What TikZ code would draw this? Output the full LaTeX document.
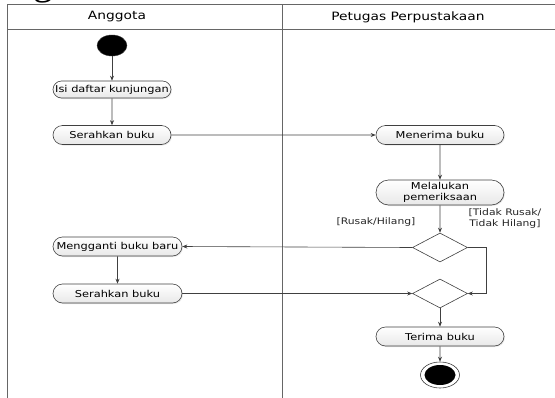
\documentclass[tikz,border=0pt]{standalone}
\usepackage{fontspec}
\setmainfont{DejaVu Sans}[FakeStretch=1.2]
\newfontfamily\docfont{Liberation Serif}
\usetikzlibrary{shapes.geometric,shapes.misc,arrows.meta,shadows}

\tikzset{
  lane/.style={draw=black!60, line width=0.8pt},
  act/.style={rounded rectangle, draw=black!75, line width=0.6pt,
    top color=white, bottom color=black!9, inner sep=1pt,
    minimum height=19pt, align=center,
    font=\fontsize{9.5}{10.5}\selectfont,
    drop shadow={opacity=0.18, shadow xshift=1pt, shadow yshift=-1pt}},
  choice/.style={diamond, draw=black!75, line width=0.6pt, fill=white,
    inner sep=0pt, minimum width=55pt, minimum height=29pt, aspect=1.9},
  flow/.style={draw=black!75, line width=0.6pt,
    -{Stealth[length=5pt,width=4pt]}},
  guard/.style={font=\fontsize{9}{11}\selectfont, align=center, text=black!85},
  head/.style={font=\fontsize{11.5}{13}\selectfont}
}

\begin{document}
\begin{tikzpicture}[x=1pt, y=-1pt]
\useasboundingbox (0,0) rectangle (555,397);
\clip (0,0) rectangle (555,397);

% heading line of the page, only its lowest edge falls inside
\begin{scope}
  \clip (0,0) rectangle (555,4);
  \node[anchor=south, inner sep=0pt, font=\docfont\fontsize{40}{40}\selectfont] (hd) at (43,3.5) {g};
\end{scope}

% swimlane frame
\draw[lane] (7,398) -- (7,4.5) -- (556,4.5);
\draw[lane] (7,29) -- (556,29);
\draw[lane] (282,4.5) -- (282,398);
\node[head] (laneA) at (117,17) {Anggota};
\node[head] (laneB) at (408,17) {Petugas Perpustakaan};

% Anggota lane
\node[ellipse, fill=black, draw=black!80, minimum width=30pt, minimum height=21pt, inner sep=0pt] (start) at (112,45.5) {};
\node[act, minimum width=120pt, minimum height=17pt] (isi) at (112,89.5) {Isi daftar kunjungan};
\node[act, minimum width=120pt] (ser1) at (112,135) {Serahkan buku};
\node[act, minimum width=131pt] (ganti) at (117.5,246.5) {Mengganti buku baru};
\node[act, minimum width=131pt] (ser2) at (117.5,293.5) {Serahkan buku};

% Petugas lane
\node[act, minimum width=130pt] (terima1) at (440,135) {Menerima buku};
\node[act, minimum width=130pt, minimum height=25pt] (periksa) at (440,192.5) {Melalukan\\pemeriksaan};
\node[choice] (d1) at (440,247.5) {};
\node[choice] (d2) at (440,293.5) {};
\node[act, minimum width=130pt] (terima2) at (440,336.5) {Terima buku};
\node[ellipse, draw=black!75, line width=0.6pt, fill=white, minimum width=39pt, minimum height=26pt, inner sep=0pt] (stop) at (440,375) {};
\node[ellipse, fill=black, minimum width=31pt, minimum height=20pt, inner sep=0pt] (stopin) at (440,375) {};

\coordinate (rt) at (486,0);

% flows
\draw[flow] (start) -- (isi);
\draw[flow] (isi) -- (ser1);
\draw[flow] (ser1) -- (terima1);
\draw[flow] (terima1) -- (periksa);
\draw[flow] (periksa) -- (d1);
\draw[flow] (d1.west) -- (ganti.east);
\draw[flow] (d1.east) -- (d1.east -| rt) |- (d2.east);
\draw[flow] (ganti) -- (ser2);
\draw[flow] (ser2.east) -- (d2.west);
\draw[flow] (d2) -- (terima2);
\draw[flow] (terima2) -- (stop);

% guards
\node[guard] (g1) at (376,222) {[Rusak/Hilang]};
\node[guard] (g2) at (505,219) {[Tidak Rusak/\\Tidak Hilang]};
\end{tikzpicture}
\end{document}
